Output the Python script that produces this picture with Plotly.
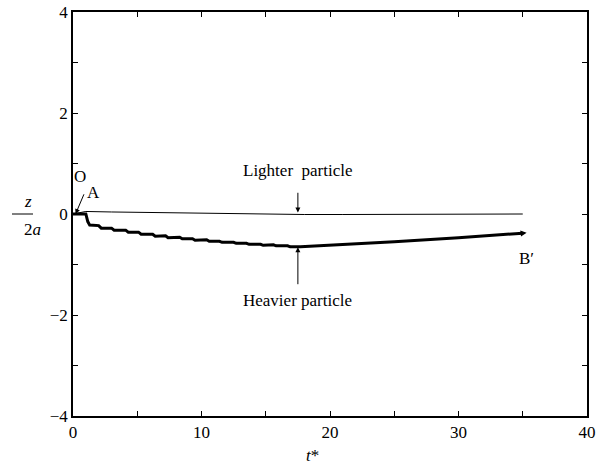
import plotly.graph_objects as go

# Lighter particle trajectory
t_light = [0, 1.0, 3, 6, 9, 12, 15, 18, 21, 24, 27, 30, 33, 35]
z_light = [0, 0.05, 0.04, 0.03, 0.01, 0.0, -0.01, -0.01, -0.01, -0.01, -0.01, 0.0, 0.0, 0.0]

# Heavier particle trajectory (staircase)
t_heavy = [0, 1.0, 1.15, 1.3, 2.0, 2.2, 3.0, 3.2, 4.1, 4.3, 5.1, 5.3, 6.2, 6.4, 7.2, 7.4,
           8.3, 8.5, 9.3, 9.5, 10.4, 10.6, 11.4, 11.6, 12.5, 12.7, 13.5, 13.7, 14.6, 14.8,
           15.6, 15.8, 16.7, 16.9, 17.7, 18.5, 20, 25, 30, 35]
z_heavy = [0, 0, -0.15, -0.22, -0.23, -0.28, -0.28, -0.32, -0.32, -0.36, -0.36, -0.40, -0.40, -0.44,
           -0.43, -0.47, -0.46, -0.49, -0.49, -0.52, -0.51, -0.54, -0.54, -0.56, -0.56, -0.58,
           -0.58, -0.60, -0.60, -0.62, -0.61, -0.63, -0.63, -0.65, -0.65, -0.64, -0.62, -0.55,
           -0.47, -0.38]

x_ticks = [0, 10, 20, 30, 40]
y_ticks = [-4, -2, 0, 2, 4]

FONT = "Liberation Serif"

fig = go.Figure()
fig.add_trace(go.Scatter(x=t_light, y=z_light, mode="lines",
                         line=dict(color="black", width=1), showlegend=False))
fig.add_trace(go.Scatter(x=t_heavy, y=z_heavy, mode="lines",
                         line=dict(color="black", width=3), showlegend=False))

axis_common = dict(showgrid=False, zeroline=False, showline=True, linecolor="black",
                   linewidth=1.5, ticks="inside", ticklen=5, tickcolor="black",
                   mirror="allticks", automargin=False,
                   tickfont=dict(family=FONT, size=17, color="black"))

fig.update_xaxes(range=[0, 40], tickvals=x_ticks,
                 minor=dict(dtick=5, ticks="inside", ticklen=5, tickcolor="black"),
                 **axis_common)
fig.update_yaxes(range=[-4, 4], tickvals=y_ticks,
                 minor=dict(dtick=1, ticks="inside", ticklen=5, tickcolor="black"),
                 **axis_common)

ann_font = dict(family=FONT, size=17, color="black")
annotations = [
    dict(x=0.2, y=0.0, ax=0.9, ay=0.42, axref="x", ayref="y", text="", showarrow=True,
         arrowhead=2, arrowsize=1, arrowwidth=1, arrowcolor="black"),
    dict(x=0.55, y=0.75, text="O", showarrow=False, font=ann_font),
    dict(x=1.6, y=0.42, text="A", showarrow=False, font=ann_font),
    dict(x=17.5, y=0.87, text="Lighter  particle", showarrow=False, font=ann_font),
    dict(x=17.5, y=0.03, ax=17.5, ay=0.45, axref="x", ayref="y", text="", showarrow=True,
         arrowhead=2, arrowsize=1, arrowwidth=1, arrowcolor="black"),
    dict(x=17.5, y=-1.72, text="Heavier particle", showarrow=False, font=ann_font),
    dict(x=17.5, y=-0.66, ax=17.5, ay=-1.42, axref="x", ayref="y", text="", showarrow=True,
         arrowhead=2, arrowsize=1, arrowwidth=1, arrowcolor="black"),
    dict(x=35.3, y=-0.37, ax=35.0, ay=-0.38, axref="x", ayref="y", text="", showarrow=True,
         arrowhead=2, arrowsize=0.8, arrowwidth=1.5, arrowcolor="black"),
    dict(x=35.3, y=-0.88, text="B′", showarrow=False, font=ann_font),
    dict(xref="paper", yref="paper", x=0.465, y=(416 - 455) / 404, text="<i>t</i>*",
         showarrow=False, font=ann_font, yanchor="middle"),
    dict(xref="paper", yref="paper", x=(22 - 73) / 514, y=(416 - 201) / 404, text="<i>z</i>",
         showarrow=False, font=ann_font),
    dict(xref="paper", yref="paper", x=(22 - 73) / 514, y=(416 - 229) / 404, text="2<i>a</i>",
         showarrow=False, font=ann_font),
]
fig.update_layout(
    width=596, height=470,
    margin=dict(l=73, r=9, t=12, b=54, autoexpand=False),
    plot_bgcolor="white", paper_bgcolor="white",
    annotations=annotations,
    shapes=[dict(type="line", xref="paper", yref="paper",
                 x0=(12 - 73) / 514, x1=(33 - 73) / 514,
                 y0=(416 - 214) / 404, y1=(416 - 214) / 404,
                 line=dict(color="black", width=1))],
)
fig.write_html("out.html", config={"displayModeBar": False},
               post_script="document.body.style.margin='0';document.body.style.overflow='hidden';")
